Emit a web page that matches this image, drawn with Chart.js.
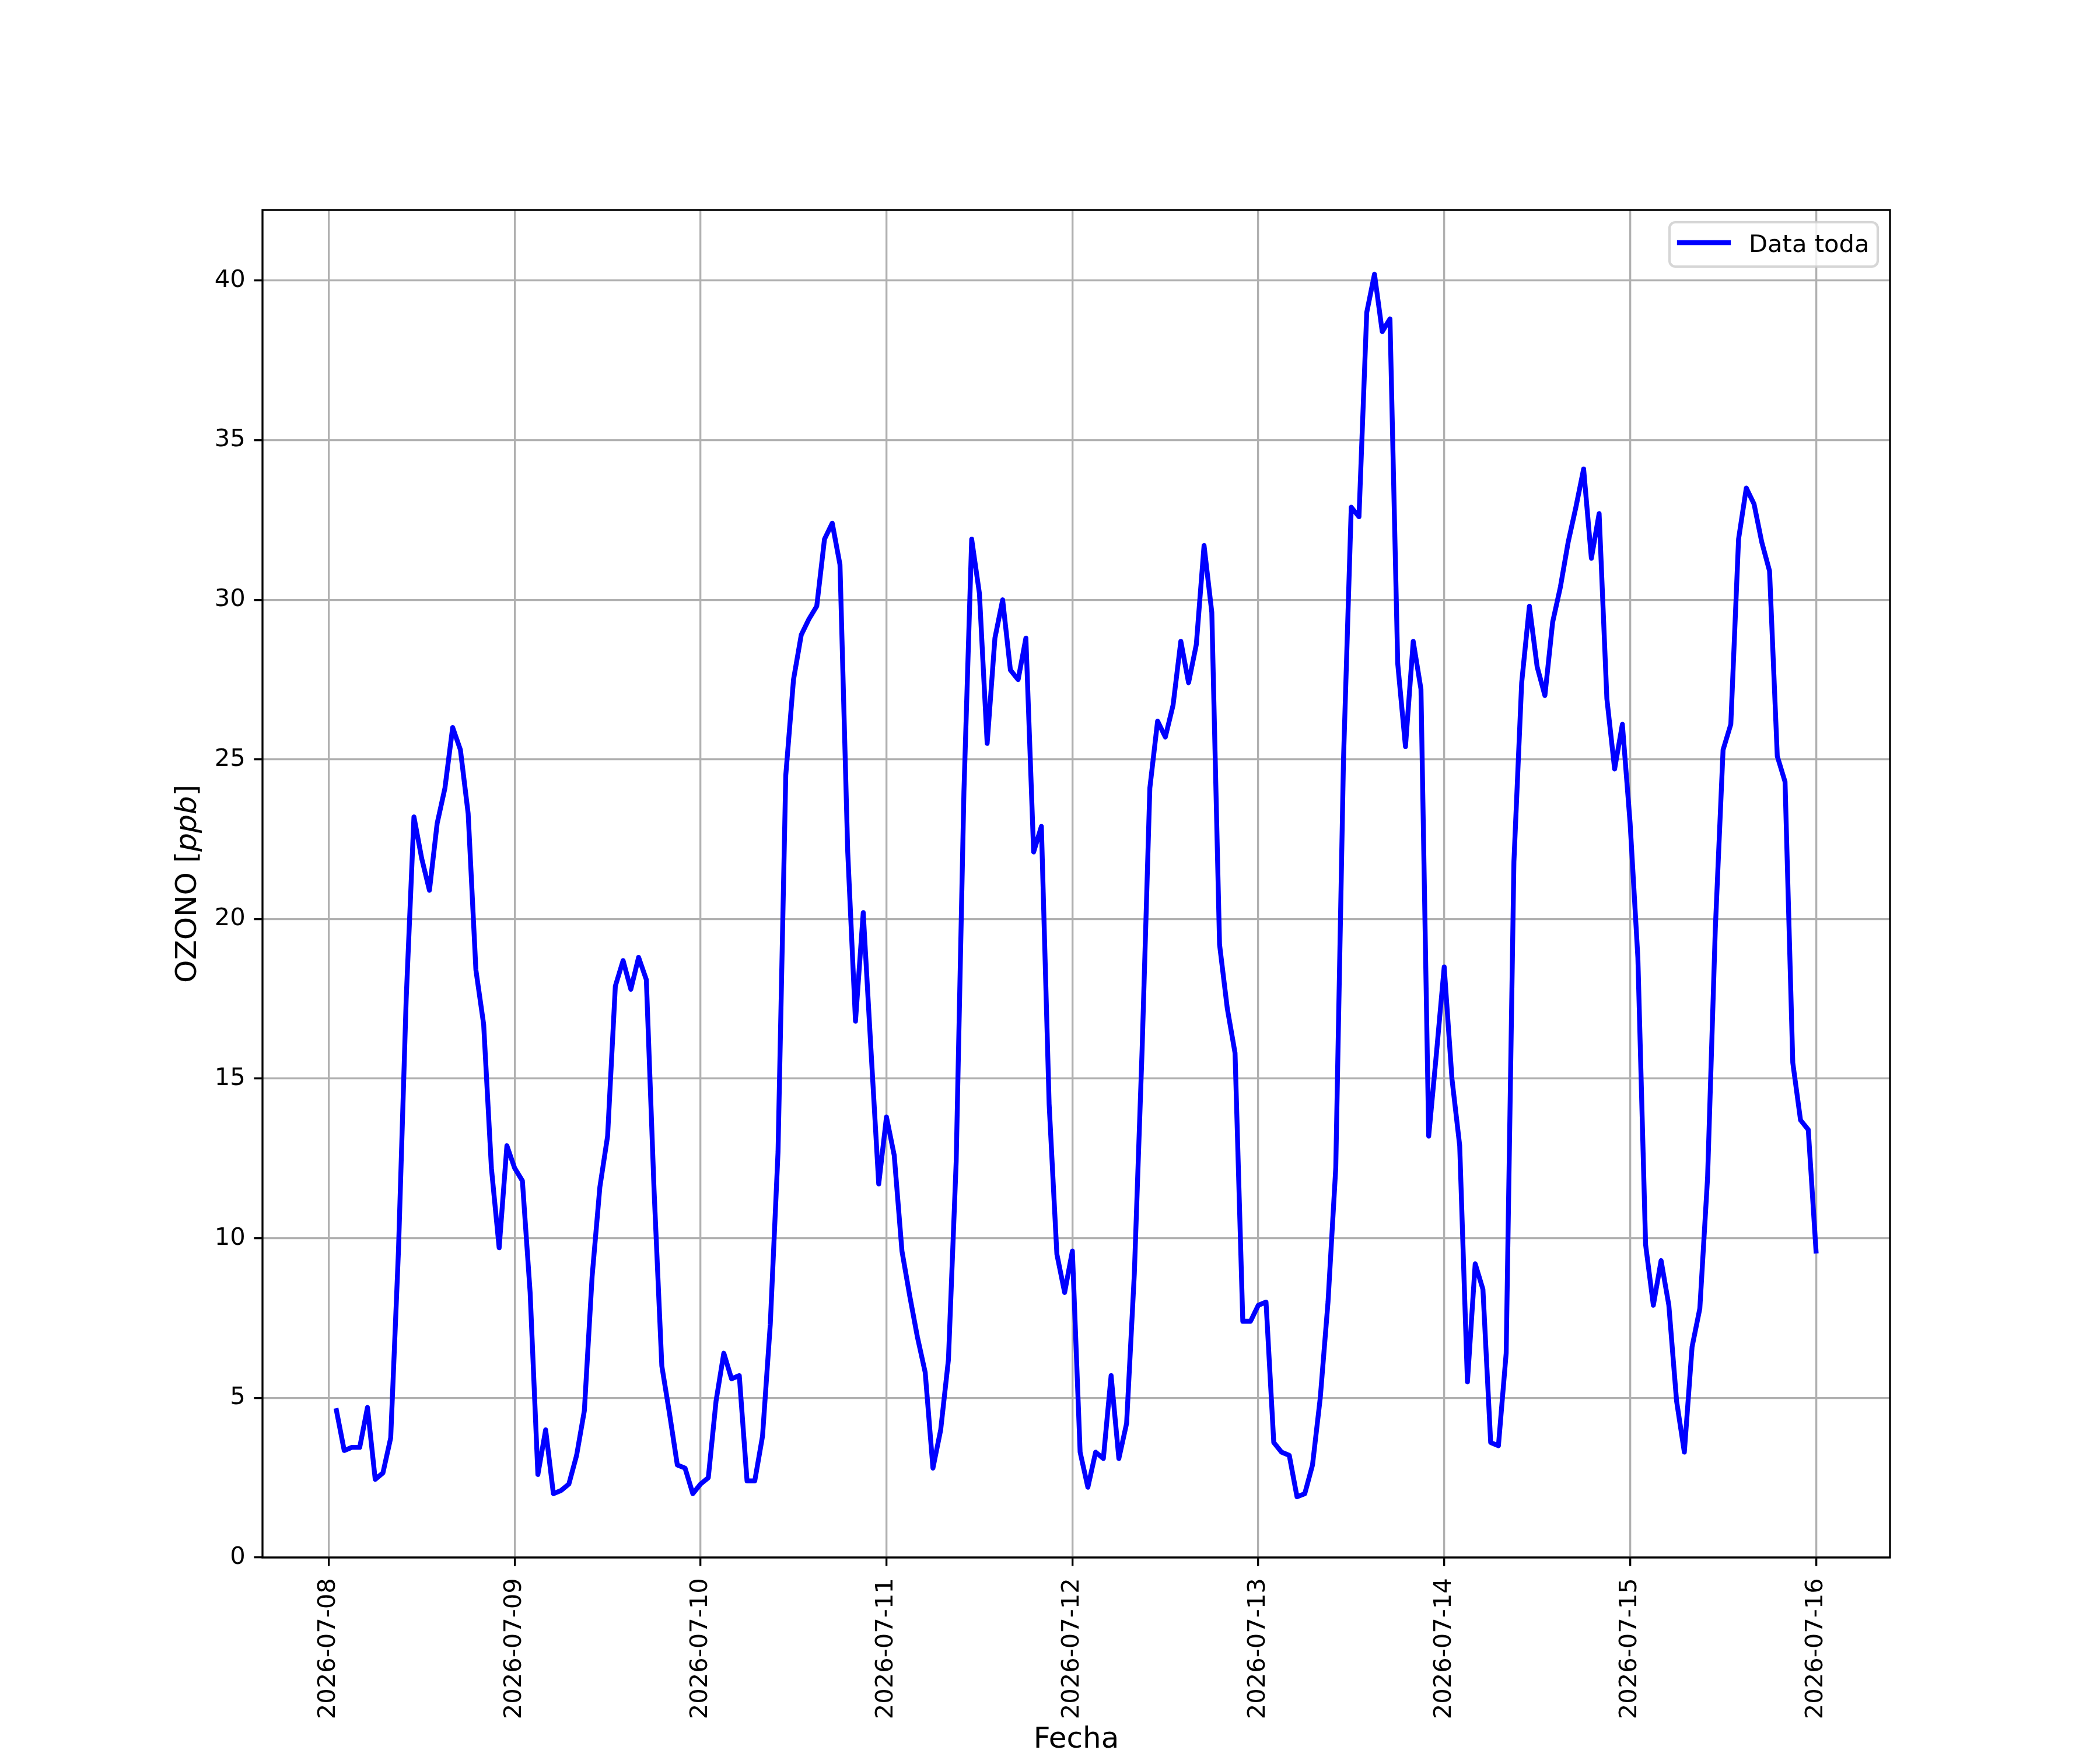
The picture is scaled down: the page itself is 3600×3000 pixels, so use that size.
<!DOCTYPE html>
<html>
<head>
<meta charset="utf-8">
<script src="https://cdn.jsdelivr.net/npm/chart.js@4.4.1/dist/chart.umd.min.js"></script>
<style>
body { margin: 0; background: #ffffff; }
#wrap { width: 3600px; height: 3000px; }
</style>
</head>
<body>
<div id="wrap"><canvas id="ozonoChart" width="3600" height="3000"></canvas></div>
<script>

// ---------------------
// Data (hourly, from 2026-07-08 01:00)
// ---------------------

const fechas = ["2026-07-08","2026-07-09","2026-07-10","2026-07-11","2026-07-12",
    "2026-07-13","2026-07-14","2026-07-15","2026-07-16"];

const horaInicio = 1;

const dia1 = [4.6,3.35,3.45,3.45,4.7,2.45,2.65,3.75,9.6,17.5,23.2,21.9,
    20.9,23.0,24.1,26.0,25.3,23.3,18.4,16.7,12.2,9.7,12.9,12.2];
const dia2 = [11.8,8.3,2.6,4.0,2.0,2.1,2.3,3.2,4.6,8.8,11.6,13.2,
    17.9,18.7,17.8,18.8,18.1,11.5,6.0,4.5,2.9,2.8,2.0,2.3];
const dia3 = [2.5,4.9,6.4,5.6,5.7,2.4,2.4,3.8,7.3,12.7,24.5,27.5,
    28.9,29.4,29.8,31.9,32.4,31.1,22.1,16.8,20.2,15.9,11.7,13.8];
const dia4 = [12.6,9.6,8.2,6.9,5.8,2.8,4.0,6.2,12.4,24.0,31.9,30.2,
    25.5,28.8,30.0,27.8,27.5,28.8,22.1,22.9,14.2,9.5,8.3,9.6];
const dia5 = [3.3,2.2,3.3,3.1,5.7,3.1,4.2,8.9,15.9,24.1,26.2,25.7,
    26.7,28.7,27.4,28.6,31.7,29.6,19.2,17.2,15.8,7.4,7.4,7.9];
const dia6 = [8.0,3.6,3.3,3.2,1.9,2.0,2.9,5.0,8.0,12.2,25.0,32.9,
    32.6,39.0,40.2,38.4,38.8,28.0,25.4,28.7,27.2,13.2,15.8,18.5];
const dia7 = [15.0,12.9,5.5,9.2,8.4,3.6,3.5,6.4,21.8,27.4,29.8,27.9,
    27.0,29.3,30.4,31.8,32.9,34.1,31.3,32.7,26.9,24.7,26.1,23.0];
const dia8 = [18.8,9.8,7.9,9.3,7.9,4.9,3.3,6.6,7.8,11.9,19.7,25.3,
    26.1,31.9,33.5,33.0,31.8,30.9,25.1,24.3,15.5,13.7,13.4,9.6];

const ozono = [].concat(dia1,dia2,dia3,dia4,dia5,dia6,dia7,dia8);

const yTicks = [0,5,10,15,20,25,30,35,40];

const serieNombre = "Data toda";

// ---------------------
// Build points / ticks
// ---------------------

const puntos = ozono.map((v,i)=>({x:horaInicio+i, y:v}));
const tickHoras = fechas.map((f,i)=>i*24);

// matplotlib style sizes (300 dpi)
const PT = 300/72;
const FONT = "DejaVu Sans";

// ---------------------
// Extra drawing: spines, legend, axis titles
// ---------------------

const extras = {
    id:"extras",
    afterDatasetsDraw(chart){
        const ctx = chart.ctx;
        const a = chart.chartArea;

        // spines
        ctx.save();
        ctx.strokeStyle = "#000000";
        ctx.lineWidth = 0.8*PT;
        ctx.strokeRect(a.left, a.top, a.right-a.left, a.bottom-a.top);
        ctx.restore();

        // legend
        ctx.save();
        const bx = 2862, by = 381, bw = 357, bh = 76, r = 10;
        ctx.beginPath();
        ctx.moveTo(bx+r, by);
        ctx.arcTo(bx+bw, by, bx+bw, by+bh, r);
        ctx.arcTo(bx+bw, by+bh, bx, by+bh, r);
        ctx.arcTo(bx, by+bh, bx, by, r);
        ctx.arcTo(bx, by, bx+bw, by, r);
        ctx.closePath();
        ctx.fillStyle = "rgba(255,255,255,0.8)";
        ctx.fill();
        ctx.strokeStyle = "rgba(204,204,204,0.8)";
        ctx.lineWidth = 1.0*PT;
        ctx.stroke();

        ctx.beginPath();
        ctx.moveTo(2879, 416);
        ctx.lineTo(2963, 416);
        ctx.strokeStyle = "#0000ff";
        ctx.lineWidth = 2*PT;
        ctx.lineCap = "square";
        ctx.stroke();

        ctx.fillStyle = "#000000";
        ctx.font = (10*PT)+"px '"+FONT+"'";
        ctx.textBaseline = "alphabetic";
        ctx.textAlign = "left";
        ctx.fillText(serieNombre, 2998, 432);
        ctx.restore();

        // y title: OZONO [ppb] with italic ppb
        ctx.save();
        const fNormal = (12*PT)+"px '"+FONT+"'";
        const fItalic = "oblique "+(12*PT)+"px '"+FONT+"'";
        const partes = [["OZONO [",fNormal],["ppb",fItalic],["]",fNormal]];
        let total = 0;
        partes.forEach(p=>{ ctx.font = p[1]; total += ctx.measureText(p[0]).width; });
        ctx.translate(336, (a.top+a.bottom)/2);
        ctx.rotate(-Math.PI/2);
        ctx.fillStyle = "#000000";
        ctx.textBaseline = "alphabetic";
        ctx.textAlign = "left";
        let xx = -total/2;
        partes.forEach(p=>{
            ctx.font = p[1];
            ctx.fillText(p[0], xx, 0);
            xx += ctx.measureText(p[0]).width;
        });
        ctx.restore();

        // x title
        ctx.save();
        ctx.font = (12*PT)+"px '"+FONT+"'";
        ctx.fillStyle = "#000000";
        ctx.textAlign = "center";
        ctx.textBaseline = "alphabetic";
        ctx.fillText("Fecha", (a.left+a.right)/2, 2996);
        ctx.restore();
    }
};

// ---------------------
// Chart
// ---------------------

new Chart(

document.getElementById("ozonoChart"),

{

type:"line",

data:{

datasets:[{

label:serieNombre,

data:puntos,

borderColor:"#0000ff",

backgroundColor:"#0000ff",

borderWidth:2*PT,

borderJoinStyle:"round",

borderCapStyle:"square",

pointRadius:0,

tension:0,

fill:false

}]

},

options:{

responsive:false,

animation:false,

devicePixelRatio:1,

layout:{ padding:{ top:360, right:360, left:0, bottom:0 } },

plugins:{ legend:{ display:false }, tooltip:{ enabled:false } },

scales:{

x:{

type:"linear",

min:-8.55,

max:201.55,

afterBuildTicks:(scale)=>{ scale.ticks = tickHoras.map(v=>({value:v})); },

afterFit:(scale)=>{ scale.height = 330; },

grid:{ color:"#b0b0b0", lineWidth:0.8*PT, drawTicks:true, tickLength:3.5*PT, tickColor:"#000000", tickWidth:0.8*PT },

border:{ display:false },

ticks:{

autoSkip:false,

minRotation:90,

maxRotation:90,

padding:3.5*PT+6,

color:"#000000",

font:{ family:FONT, size:10*PT },

callback:(value)=>fechas[tickHoras.indexOf(value)]

}

},

y:{

type:"linear",

min:0,

max:42.21,

afterBuildTicks:(scale)=>{ scale.ticks = yTicks.map(v=>({value:v})); },

afterFit:(scale)=>{ scale.width = 450; },

grid:{ color:"#b0b0b0", lineWidth:0.8*PT, drawTicks:true, tickLength:3.5*PT, tickColor:"#000000", tickWidth:0.8*PT },

border:{ display:false },

ticks:{

padding:3.5*PT,

color:"#000000",

font:{ family:FONT, size:10*PT },

callback:(value)=>String(value)

}

}

}

},

plugins:[extras]

}

);

</script>
</body>
</html>
